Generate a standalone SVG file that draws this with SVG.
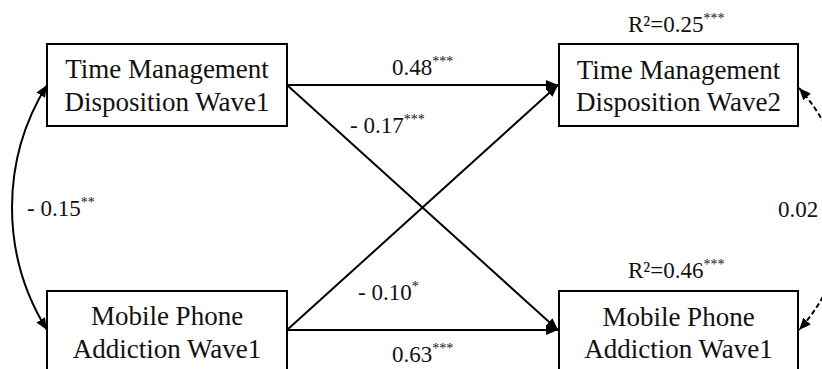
<svg xmlns="http://www.w3.org/2000/svg" width="822" height="369" viewBox="0 0 822 369">
<style>
.box{fill:#fff;stroke:#000;stroke-width:2}
.t{font-family:"Liberation Serif","Times New Roman",serif;font-size:27px;fill:#111;text-anchor:middle}
.l{font-family:"Liberation Serif","Times New Roman",serif;font-size:23px;fill:#111}
.s{font-size:14px}
.c{fill:none;stroke:#000;stroke-width:2}
</style>
<defs>
<marker id="ah" markerUnits="userSpaceOnUse" markerWidth="13" markerHeight="11" refX="12" refY="5" orient="auto-start-reverse">
<path d="M0,0 L12,5 L0,10 z" fill="#000"/>
</marker>
</defs>
<rect width="822" height="369" fill="#fff"/>
<g id="connectors">
<line class="c" x1="287" y1="85" x2="558" y2="85" marker-end="url(#ah)"/>
<line class="c" x1="287" y1="85" x2="558" y2="330" marker-end="url(#ah)"/>
<line class="c" x1="287" y1="330" x2="558" y2="85" marker-end="url(#ah)"/>
<line class="c" x1="287" y1="330" x2="558" y2="330" marker-end="url(#ah)"/>
<path class="c" d="M47,85 A232,232 0 0,0 47,330" marker-start="url(#ah)" marker-end="url(#ah)"/>
<path class="c" d="M799,88 A180,180 0 0,1 799,330" stroke-dasharray="5,3" marker-start="url(#ah)" marker-end="url(#ah)"/>
</g>
<g id="tmd1">
<rect class="box" x="47" y="44" width="240" height="82"/>
<text class="t" x="167" y="78">Time Management</text>
<text class="t" x="167" y="111">Disposition Wave1</text>
</g>
<g id="tmd2">
<rect class="box" x="559" y="44" width="239" height="82"/>
<text class="t" x="678.5" y="79">Time Management</text>
<text class="t" x="678.5" y="111">Disposition Wave2</text>
</g>
<g id="mpa1">
<rect class="box" x="47" y="291" width="240" height="82"/>
<text class="t" x="167" y="325">Mobile Phone</text>
<text class="t" x="167" y="358">Addiction Wave1</text>
</g>
<g id="mpa2">
<rect class="box" x="559" y="291" width="239" height="82"/>
<text class="t" x="678.5" y="326">Mobile Phone</text>
<text class="t" x="678.5" y="358">Addiction Wave1</text>
</g>
<g id="labels">
<text class="l" x="628" y="32">R²=0.25<tspan class="s" dy="-9">***</tspan></text>
<text class="l" x="628" y="278">R²=0.46<tspan class="s" dy="-9">***</tspan></text>
<text class="l" x="392" y="75">0.48<tspan class="s" dy="-9">***</tspan></text>
<text class="l" x="350" y="133">- 0.17<tspan class="s" dy="-9">***</tspan></text>
<text class="l" x="358" y="300">- 0.10<tspan class="s" dy="-9">*</tspan></text>
<text class="l" x="392" y="362">0.63<tspan class="s" dy="-9">***</tspan></text>
<text class="l" x="27" y="216">- 0.15<tspan class="s" dy="-9">**</tspan></text>
<text class="l" x="778" y="217">0.02</text>
</g>
</svg>
